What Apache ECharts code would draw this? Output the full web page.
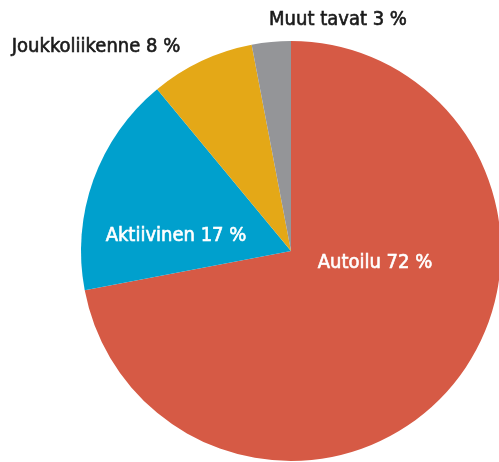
<html>
<head>
    <meta charset="utf-8">
    <title>Kulkutavat</title>
    <script src="https://cdn.jsdelivr.net/npm/echarts@6/dist/echarts.min.js"></script>
    <style>
        html, body { margin: 0; padding: 0; background: #fff; }
    </style>
</head>
<body>
<div id="main" style="width: 499px;height:462px;"></div>
<script>
    // osuudet prosentteina, myötäpäivään klo 12:sta
    var names = ['Autoilu', 'Aktiivinen', 'Joukkoliikenne', 'Muut tavat'];
    var values = [72, 17, 8, 3];
    var colors = ['#d65a45', '#00a0cd', '#e4a817', '#949598'];
    var labelColors = ['#fff', '#fff', '#1a1a1a', '#1a1a1a'];
    // tekstien keskipisteet
    var labelPos = [[375, 263], [176, 236], [96, 47], [338, 20]];

    var myChart = echarts.init(document.getElementById('main'));

    var data = names.map(function (n, i) {
        return {
            name: n,
            value: values[i],
            itemStyle: { color: colors[i] },
            // ohut reunus samalla värillä lihavoi tekstiä hieman
            label: { color: labelColors[i], textBorderColor: labelColors[i], textBorderWidth: 0.6 }
        };
    });

    myChart.setOption({
        animation: false,
        series: [{
            type: 'pie',
            center: [291, 251],
            radius: 210,
            startAngle: 90,
            clockwise: true,
            itemStyle: { borderWidth: 0 },
            label: {
                show: true,
                position: 'inside',
                formatter: function (p) { return p.name + ' ' + p.value + ' %'; },
                fontFamily: '"DejaVu Sans Condensed", "Liberation Sans Narrow", sans-serif',
                fontSize: 20
            },
            labelLine: { show: false },
            labelLayout: function (params) {
                var p = labelPos[params.dataIndex];
                return { x: p[0], y: p[1], align: 'center', verticalAlign: 'middle' };
            },
            emphasis: { disabled: true },
            data: data
        }]
    });
</script>
</body>
</html>
